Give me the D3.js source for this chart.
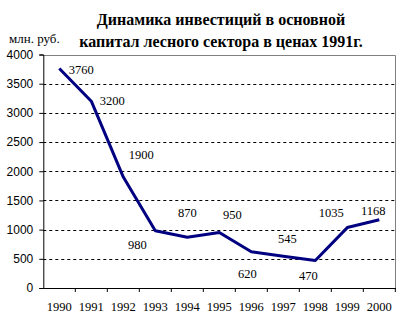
<!DOCTYPE html>
<html><head><meta charset="utf-8">
<script src="https://cdn.jsdelivr.net/npm/d3@7"></script>
<style>body{margin:0;background:#fff}svg{display:block}</style>
</head><body><svg id="c" width="405" height="325"></svg>
<script>
const years = ["1990","1991","1992","1993","1994","1995","1996","1997","1998","1999","2000"];
const values = [3760,3200,1900,980,870,950,620,545,470,1035,1168];
const yTicks = [0,500,1000,1500,2000,2500,3000,3500,4000];
const titleLines = ["Динамика инвестиций в основной","капитал лесного сектора в ценах 1991г."];
const unitLabel = "млн. руб.";
// label offsets (px) relative to each point
const labelDx = [22,21,18,-18,0,13,-4,4,-7,-16,-6];
const labelDy = [1,0,-22,14,-24,-18,22,-17,15,-15,-9];

const serif = "'Liberation Serif'", sans = "'Liberation Sans'";
const svg = d3.select("#c");
const L=43.3, R=395.3, T=54.5, B=288;
const x = d3.scaleBand().domain(years).range([L,R]);
const y = d3.scaleLinear().domain([0,4000]).range([B,T]);

// grid
svg.append("g").selectAll("line").data(yTicks.filter(d=>d>0&&d<4000)).join("line")
  .attr("x1",L).attr("x2",R).attr("y1",d=>Math.round(y(d))+0.5).attr("y2",d=>Math.round(y(d))+0.5)
  .attr("stroke","#000").attr("stroke-width",1).attr("stroke-dasharray","3,3");
// border top/right
svg.append("path").attr("d",`M${L},${Math.round(T)+0.5}H${Math.round(R)+0.5}V${B}`)
  .attr("fill","none").attr("stroke","#808080");

const yAxis = svg.append("g").attr("transform",`translate(${L},0)`)
  .call(d3.axisLeft(y).tickValues(yTicks).tickSize(4).tickPadding(6).tickFormat(d3.format("d")));
yAxis.selectAll("text").attr("font-size",12).attr("fill","#000").style("font-family",sans);
yAxis.select(".domain").attr("stroke","#000");

const xAxis = svg.append("g").attr("transform",`translate(0,${B})`)
  .call(d3.axisBottom(x).tickSize(0).tickPadding(14));
xAxis.selectAll("text").attr("font-size",12.5).attr("fill","#000").style("font-family",serif);
xAxis.select(".domain").attr("stroke","#000");
// tick marks at band boundaries
svg.append("g").selectAll("line").data(years).join("line")
  .attr("x1",d=>x(d)+x.bandwidth()).attr("x2",d=>x(d)+x.bandwidth())
  .attr("y1",B).attr("y2",B+4).attr("stroke","#000");

const cx = d=>x(d)+x.bandwidth()/2;
svg.append("path").datum(values)
  .attr("d",d3.line().x((d,i)=>cx(years[i])).y(d=>y(d)))
  .attr("fill","none").attr("stroke","#000080").attr("stroke-width",3).attr("stroke-linejoin","round");

svg.append("g").selectAll("text").data(values).join("text")
  .attr("x",(d,i)=>cx(years[i])+labelDx[i]).attr("y",(d,i)=>y(d)+labelDy[i])
  .attr("text-anchor","middle").attr("dominant-baseline","central")
  .attr("font-size",12.5).attr("fill","#000").style("font-family",serif).text(d=>d);

svg.append("g").selectAll("text").data(titleLines).join("text")
  .attr("x",221).attr("y",(d,i)=>25+i*22).attr("text-anchor","middle")
  .attr("font-size",16).attr("font-weight","bold").attr("fill","#000").style("font-family",serif).text(d=>d);

svg.append("text").attr("x",9).attr("y",43).attr("font-size",13).attr("fill","#000").style("font-family",serif).text(unitLabel);
</script></body></html>
